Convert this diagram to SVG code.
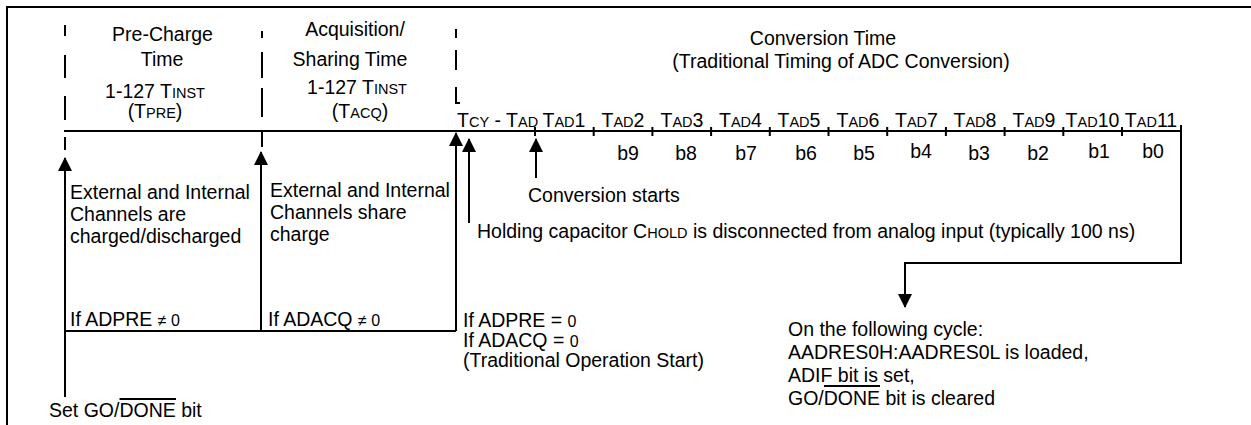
<svg xmlns="http://www.w3.org/2000/svg" width="1251" height="425" viewBox="0 0 1251 425">
<style>
  text { font-family: "Liberation Sans", Arial, sans-serif; font-size: 19.5px; fill: #000; }
  .sc { font-size: 14.5px; }
  .sym { font-size: 16px; }
  .mid { text-anchor: middle; }
  .ln { stroke: #000; stroke-width: 2; fill: none; }
  .arr { stroke: #000; stroke-width: 2; fill: none; marker-end: url(#ah); }
</style>
<defs>
  <marker id="ah" viewBox="0 0 14 14" refX="13" refY="7" markerWidth="14" markerHeight="14" markerUnits="userSpaceOnUse" orient="auto">
    <path d="M0,0 L14,7 L0,14 z" fill="#000"/>
  </marker>
</defs>
<rect width="1251" height="425" fill="#fff"/>

<g id="frame">
  <path class="ln" d="M7,425 V7 H1251"/>
</g>

<g id="dividers">
  <path class="ln" d="M65,25 V36 M65,55 V78 M65,96 V120 M65,137 V150"/>
  <path class="ln" d="M262,31 V38 M262,52 V78 M262,88 V117 M262,131 V147"/>
  <path class="ln" d="M456,29 V38 M456,50 V70 M456,87 V103 H460"/>
</g>

<g id="header-precharge">
  <text class="mid" x="162.5" y="41">Pre-Charge</text>
  <text class="mid" x="162" y="66">Time</text>
  <text class="mid" x="155" y="98">1-127 T<tspan class="sc">INST</tspan></text>
  <text class="mid" x="155" y="118">(T<tspan class="sc">PRE</tspan>)</text>
</g>

<g id="header-acquisition">
  <text class="mid" x="355" y="36">Acquisition/</text>
  <text class="mid" x="350" y="66">Sharing Time</text>
  <text class="mid" x="357" y="94">1-127 T<tspan class="sc">INST</tspan></text>
  <text class="mid" x="360" y="118">(T<tspan class="sc">ACQ</tspan>)</text>
</g>

<g id="header-conversion">
  <text class="mid" x="823" y="45">Conversion Time</text>
  <text class="mid" x="841" y="68">(Traditional Timing of ADC Conversion)</text>
</g>

<g id="timeline">
  <path class="ln" d="M64,131 H1181"/>
  <path class="ln" d="M535,127 V136 M593.7,127 V136 M652.4,127 V136 M711.1,127 V136 M769.8,127 V136 M828.5,127 V136 M887.2,127 V136 M945.9,127 V136 M1004.6,127 V136 M1063.3,127 V136 M1122,127 V136"/>
  <text x="457" y="127">T<tspan class="sc">CY</tspan> - T<tspan class="sc">AD</tspan></text>
  <text class="mid" x="564" y="127">T<tspan class="sc">AD</tspan>1</text>
  <text class="mid" x="623" y="127">T<tspan class="sc">AD</tspan>2</text>
  <text class="mid" x="682" y="127">T<tspan class="sc">AD</tspan>3</text>
  <text class="mid" x="740.5" y="127">T<tspan class="sc">AD</tspan>4</text>
  <text class="mid" x="799" y="127">T<tspan class="sc">AD</tspan>5</text>
  <text class="mid" x="858" y="127">T<tspan class="sc">AD</tspan>6</text>
  <text class="mid" x="916.5" y="127">T<tspan class="sc">AD</tspan>7</text>
  <text class="mid" x="975" y="127">T<tspan class="sc">AD</tspan>8</text>
  <text class="mid" x="1034" y="127">T<tspan class="sc">AD</tspan>9</text>
  <text class="mid" x="1092.5" y="127">T<tspan class="sc">AD</tspan>10</text>
  <text class="mid" x="1151" y="127">T<tspan class="sc">AD</tspan>11</text>
</g>

<g id="bits">
  <text class="mid" x="628" y="160">b9</text>
  <text class="mid" x="686" y="160">b8</text>
  <text class="mid" x="746" y="160">b7</text>
  <text class="mid" x="806" y="160">b6</text>
  <text class="mid" x="864" y="160">b5</text>
  <text class="mid" x="921" y="158">b4</text>
  <text class="mid" x="979" y="160">b3</text>
  <text class="mid" x="1038" y="160">b2</text>
  <text class="mid" x="1099" y="158">b1</text>
  <text class="mid" x="1153" y="158">b0</text>
</g>

<g id="connectors">
  <path class="arr" d="M65,397 V158"/>
  <path class="ln" d="M65,331 H456"/>
  <path class="arr" d="M261,331 V152"/>
  <path class="arr" d="M456,331 V133"/>
  <path class="arr" d="M469,223 V139"/>
  <path class="arr" d="M536,178 V139"/>
  <path class="arr" d="M1181,125 V263 H905 V307"/>
</g>

<g id="note-precharge">
  <text x="70" y="199">External and Internal</text>
  <text x="70" y="221">Channels are</text>
  <text x="70" y="243">charged/discharged</text>
  <text x="70" y="326">If ADPRE <tspan class="sym">≠ 0</tspan></text>
</g>

<g id="note-acquisition">
  <text x="270" y="197">External and Internal</text>
  <text x="270" y="219">Channels share</text>
  <text x="270" y="241">charge</text>
  <text x="268" y="326">If ADACQ <tspan class="sym">≠ 0</tspan></text>
</g>

<g id="note-traditional">
  <text x="463" y="327">If ADPRE = <tspan class="sym">0</tspan></text>
  <text x="463" y="347">If ADACQ = <tspan class="sym">0</tspan></text>
  <text x="463" y="367">(Traditional Operation Start)</text>
</g>

<g id="note-conversion">
  <text x="528" y="202">Conversion starts</text>
  <text x="477" y="238">Holding capacitor C<tspan class="sc">HOLD</tspan> is disconnected from analog input (typically 100 ns)</text>
</g>

<g id="note-result">
  <text x="788" y="336">On the following cycle:</text>
  <text x="788" y="359">AADRES0H:AADRES0L is loaded,</text>
  <text x="788" y="382">ADIF bit is set,</text>
  <text x="788" y="405">GO/DONE bit is cleared</text>
  <path class="ln" d="M824,386 H880" stroke-width="1.5"/>
</g>

<g id="note-start">
  <text x="49" y="417">Set GO/DONE bit</text>
  <path class="ln" d="M119.5,399 H176" stroke-width="1.5"/>
</g>
</svg>
